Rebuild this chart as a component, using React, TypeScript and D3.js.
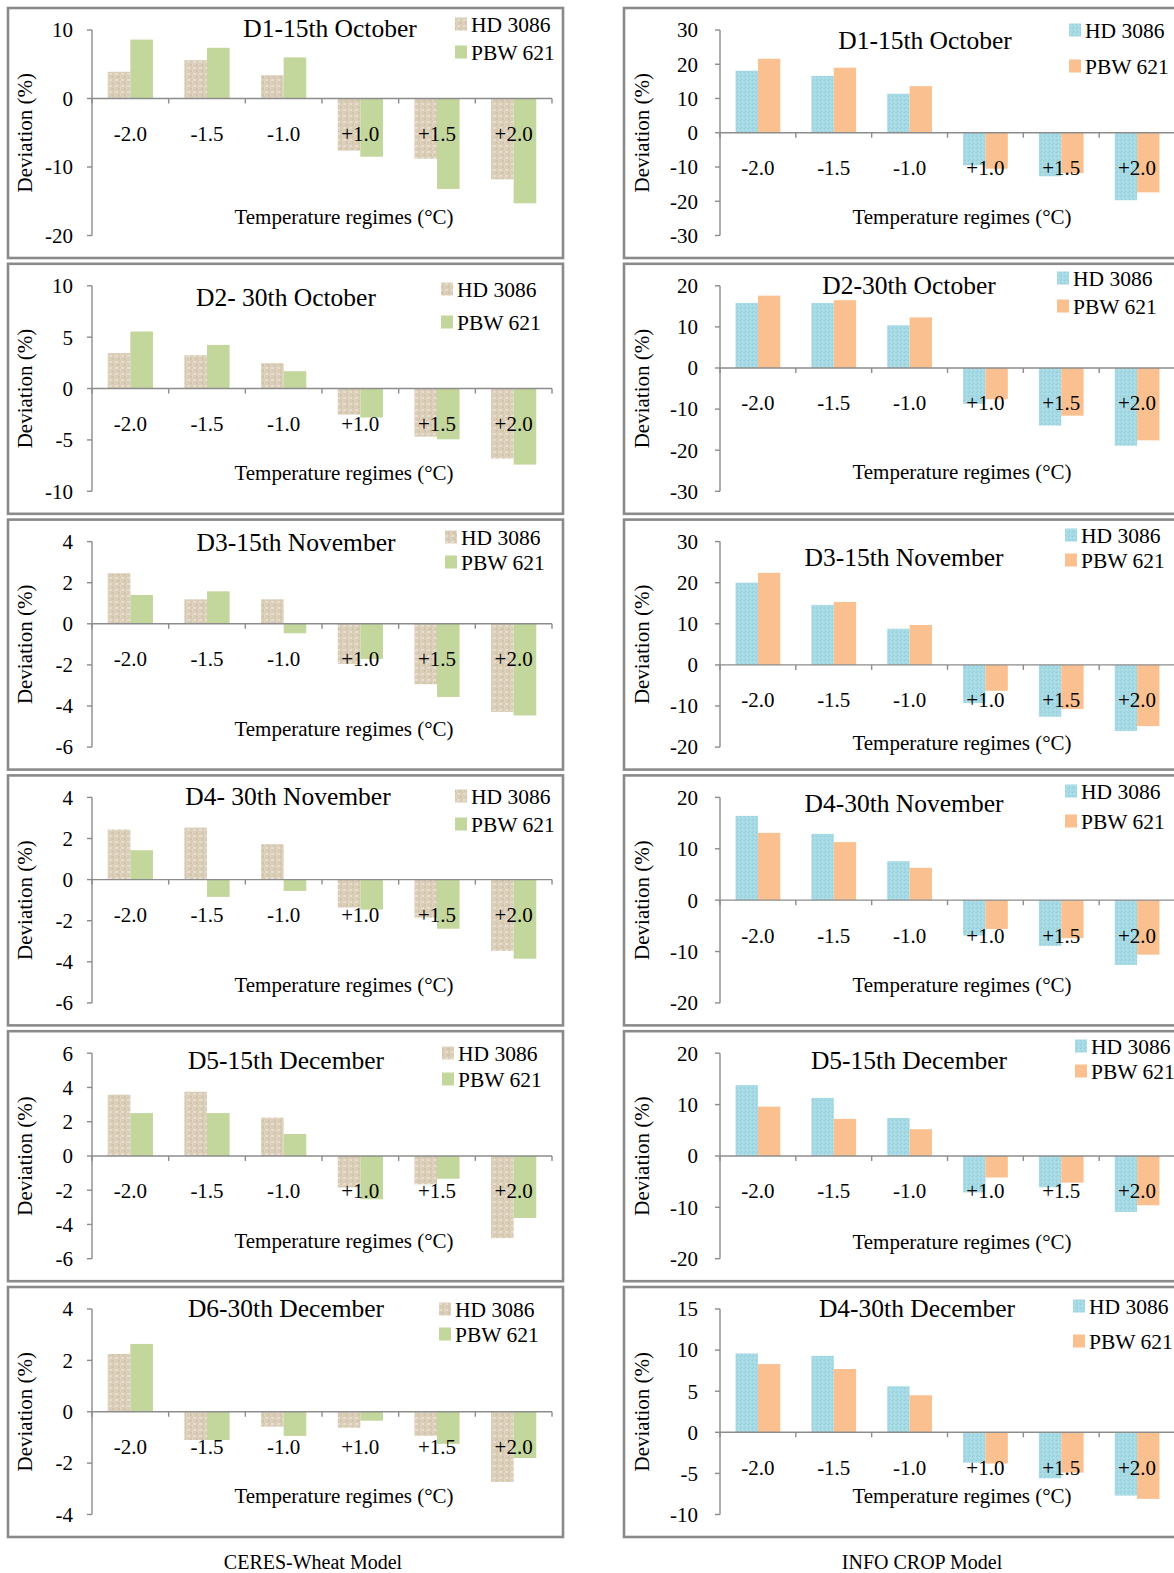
import React from "react";
import * as d3 from "d3";

// temperature regimes on the x axis
const categories = ["-2.0", "-1.5", "-1.0", "+1.0", "+1.5", "+2.0"];
const varieties = ["HD 3086", "PBW 621"];

// CERES-Wheat model (left column)
const ceresTitles = [
  "D1-15th October",
  "D2- 30th October",
  "D3-15th November",
  "D4- 30th November",
  "D5-15th December",
  "D6-30th December",
];
const ceresHD = [
  [3.9, 5.6, 3.4, -7.6, -8.8, -11.8],
  [3.45, 3.25, 2.47, -2.53, -4.68, -6.82],
  [2.46, 1.19, 1.19, -1.95, -2.94, -4.29],
  [2.44, 2.53, 1.72, -1.36, -1.85, -3.47],
  [3.58, 3.75, 2.24, -1.84, -1.66, -4.8],
  [2.25, -1.1, -0.58, -0.62, -0.94, -2.73],
];
const ceresPBW = [
  [8.6, 7.4, 6.0, -8.5, -13.2, -15.3],
  [5.55, 4.25, 1.69, -2.82, -4.94, -7.4],
  [1.4, 1.58, -0.46, -1.71, -3.56, -4.46],
  [1.43, -0.84, -0.55, -1.46, -2.39, -3.85],
  [2.5, 2.5, 1.28, -2.53, -1.33, -3.62],
  [2.64, -1.1, -0.94, -0.35, -1.25, -1.8],
];
const ceresTicks = [
  [-20, -10, 0, 10],
  [-10, -5, 0, 5, 10],
  [-6, -4, -2, 0, 2, 4],
  [-6, -4, -2, 0, 2, 4],
  [-6, -4, -2, 0, 2, 4, 6],
  [-4, -2, 0, 2, 4],
];

// INFO CROP model (right column)
const infoTitles = [
  "D1-15th October",
  "D2-30th October",
  "D3-15th November",
  "D4-30th November",
  "D5-15th December",
  "D4-30th December",
];
const infoHD = [
  [18.1, 16.6, 11.4, -9.5, -12.7, -19.7],
  [15.8, 15.8, 10.4, -8.7, -14.0, -18.9],
  [20.0, 14.6, 8.8, -9.3, -12.6, -16.1],
  [16.4, 12.9, 7.6, -6.9, -8.9, -12.6],
  [13.8, 11.3, 7.4, -7.1, -6.1, -10.9],
  [9.6, 9.3, 5.6, -3.7, -5.6, -7.7],
];
const infoPBW = [
  [21.6, 19.0, 13.6, -10.5, -11.8, -17.4],
  [17.6, 16.5, 12.3, -7.6, -11.6, -17.6],
  [22.4, 15.3, 9.7, -6.3, -10.7, -14.9],
  [13.1, 11.3, 6.3, -5.6, -7.4, -10.6],
  [9.6, 7.2, 5.2, -4.2, -5.2, -9.6],
  [8.3, 7.7, 4.5, -3.8, -4.9, -8.1],
];
const infoTicks = [
  [-30, -20, -10, 0, 10, 20, 30],
  [-30, -20, -10, 0, 10, 20],
  [-20, -10, 0, 10, 20, 30],
  [-20, -10, 0, 10, 20],
  [-20, -10, 0, 10, 20],
  [-10, -5, 0, 5, 10, 15],
];

// layout
const FONT = "'Liberation Serif', 'Times New Roman', serif";
const W = 1174;
const H = 1573;
const ROW = 255.8;

const columns = [
  {
    frameX: 8, frameW: 555, x0: 92, x1: 552, yLabelX: 25, xTitleX: 344, tickGap: 19,
    titleX: [330, 286, 296, 288, 286, 286],
    titleY: [28, 297, 542, 796, 1060, 1308],
    legX: [471, 457, 461, 471, 458, 455],
    legY: [[24, 52], [289, 322], [537, 562], [796, 824], [1053, 1079], [1309, 1334]],
    xTitleDy: [187, 187, 187, 187, 187, 187],
    fills: ["url(#beige)", "#c3d69b"],
  },
  {
    frameX: 624, frameW: 560, x0: 720, x1: 1175, yLabelX: 642, xTitleX: 962, tickGap: 22,
    titleX: [925, 909, 904, 904, 909, 917],
    titleY: [40, 285, 557, 803, 1060, 1308],
    legX: [1085, 1073, 1081, 1081, 1091, 1089],
    legY: [[30, 66], [278, 306], [535, 560], [791, 821], [1046, 1071], [1306, 1341]],
    xTitleDy: [187, 186, 201, 187, 188, 187],
    fills: ["url(#aqua)", "#fac090"],
  },
];

type PanelProps = {
  col: number;
  row: number;
  title: string;
  hd: number[];
  pbw: number[];
  ticks: number[];
};

const Panel = ({ col, row, title, hd, pbw, ticks }: PanelProps) => {
  const c = columns[col];
  const top = 30 + ROW * row;
  const bottom = top + 205.5;
  const frameTop = 8 + ROW * row;

  const x = d3.scaleBand().domain(categories).range([c.x0, c.x1]).paddingInner(0.41).paddingOuter(0.205);
  const xs = d3.scaleBand().domain(varieties).range([0, x.bandwidth()]);
  const y = d3.scaleLinear().domain([d3.min(ticks)!, d3.max(ticks)!]).range([bottom, top]);
  const y0 = y(0);
  const step = x.step();
  const values = [hd, pbw];

  return (
    <g>
      <rect x={c.frameX} y={frameTop} width={c.frameW} height={250} fill="#fff" stroke="#8a8a8a" strokeWidth={2.6} />

      {/* bars */}
      {varieties.map((v, s) =>
        categories.map((cat, i) => {
          const val = values[s][i];
          return (
            <rect
              key={v + cat}
              x={x(cat)! + xs(v)!}
              y={Math.min(y(val), y0)}
              width={xs.bandwidth()}
              height={Math.abs(y(val) - y0)}
              fill={c.fills[s]}
            />
          );
        })
      )}

      {/* y axis */}
      <line x1={c.x0} x2={c.x0} y1={top} y2={bottom} stroke="#8c8c8c" strokeWidth={1.4} />
      {ticks.map((t) => (
        <g key={t}>
          <line x1={c.x0 - 5} x2={c.x0} y1={y(t)} y2={y(t)} stroke="#8c8c8c" strokeWidth={1.4} />
          <text x={c.x0 - c.tickGap} y={y(t)} dy="0.35em" textAnchor="end" fontSize={21} fontFamily={FONT}>
            {t}
          </text>
        </g>
      ))}

      {/* x axis on zero */}
      <line x1={c.x0} x2={c.x1} y1={y0} y2={y0} stroke="#8c8c8c" strokeWidth={1.4} />
      {d3.range(categories.length + 1).map((k) => (
        <line key={k} x1={c.x0 + k * step} x2={c.x0 + k * step} y1={y0} y2={y0 + 5} stroke="#8c8c8c" strokeWidth={1.4} />
      ))}
      {categories.map((cat) => (
        <text key={cat} x={x(cat)! + x.bandwidth() / 2} y={y0 + 35} dy="0.35em" textAnchor="middle" fontSize={21} fontFamily={FONT}>
          {cat}
        </text>
      ))}

      <text x={c.titleX[row]} y={c.titleY[row]} dy="0.35em" textAnchor="middle" fontSize={25.5} fontFamily={FONT}>
        {title}
      </text>

      {/* legend */}
      {varieties.map((v, s) => (
        <g key={v}>
          <rect x={c.legX[row] - 16} y={c.legY[row][s] - 6.5} width={12} height={13} fill={c.fills[s]} />
          <text x={c.legX[row]} y={c.legY[row][s]} dy="0.35em" fontSize={21.5} fontFamily={FONT}>
            {v}
          </text>
        </g>
      ))}

      <text x={c.xTitleX} y={top + c.xTitleDy[row]} dy="0.35em" textAnchor="middle" fontSize={21} fontFamily={FONT}>
        Temperature regimes (°C)
      </text>
      <text
        transform={`translate(${c.yLabelX},${(top + bottom) / 2}) rotate(-90)`}
        dy="0.35em"
        textAnchor="middle"
        fontSize={21}
        fontFamily={FONT}
      >
        Deviation (%)
      </text>
    </g>
  );
};

export default function App() {
  return (
    <svg width={W} height={H} style={{ position: "absolute", left: 0, top: 0, background: "#fff" }}>
      <defs>
        <pattern id="beige" width={6} height={6} patternUnits="userSpaceOnUse">
          <rect width={6} height={6} fill="#d9cdb7" />
          <rect x={1} y={1} width={3} height={2} fill="#e6ddcd" />
          <rect x={4} y={4} width={2} height={2} fill="#d1c4ab" />
          <rect x={0} y={3} width={1} height={3} fill="#e1d7c5" />
        </pattern>
        <pattern id="aqua" width={4} height={4} patternUnits="userSpaceOnUse">
          <rect width={4} height={4} fill="#a5dae5" />
          <rect x={0} y={0} width={1} height={1} fill="#93cdd9" />
          <rect x={2} y={1} width={1} height={1} fill="#b8e4ec" />
          <rect x={1} y={3} width={1} height={1} fill="#9ad3de" />
          <rect x={3} y={2} width={1} height={1} fill="#b0e0e9" />
        </pattern>
      </defs>
      <rect width={W} height={H} fill="#fff" />
      {ceresTitles.map((t, i) => (
        <Panel key={"c" + i} col={0} row={i} title={t} hd={ceresHD[i]} pbw={ceresPBW[i]} ticks={ceresTicks[i]} />
      ))}
      {infoTitles.map((t, i) => (
        <Panel key={"i" + i} col={1} row={i} title={t} hd={infoHD[i]} pbw={infoPBW[i]} ticks={infoTicks[i]} />
      ))}
      <text x={313} y={1562} dy="0.35em" textAnchor="middle" fontSize={20} fontFamily={FONT}>
        CERES-Wheat Model
      </text>
      <text x={922} y={1562} dy="0.35em" textAnchor="middle" fontSize={20} fontFamily={FONT}>
        INFO CROP Model
      </text>
    </svg>
  );
}
